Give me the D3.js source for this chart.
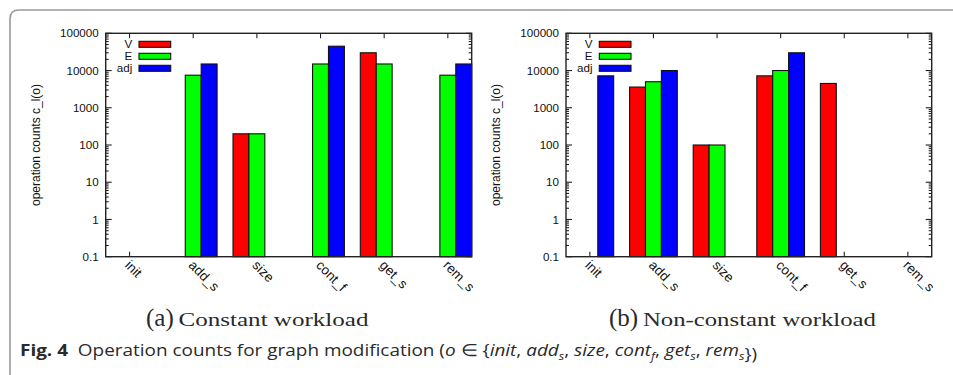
<!DOCTYPE html>
<html>
<head>
<meta charset="utf-8">
<script src="https://cdn.jsdelivr.net/npm/d3@7"></script>
<style>
  html, body { margin: 0; padding: 0; background: #fff; }
  svg { display: block; }
</style>
</head>
<body>
<svg id="fig" width="953" height="375"></svg>
<script>
// Operations measured on the graph structures
const categories = ["init", "add_s", "size", "cont_f", "get_s", "rem_s"];
const seriesNames = ["V", "E", "adj"];
const seriesColors = ["#ff0000", "#00ff00", "#0000ff"];
const yTickValues = [0.1, 1, 10, 100, 1000, 10000, 100000];
const yTickLabels = ["0.1", "1", "10", "100", "1000", "10000", "100000"];

// Constant workload counts per operation (null = no operations of that kind)
const constantV   = [null, null, 200, null, 30000, null];
const constantE   = [null, 7500, 200, 15000, 15000, 7500];
const constantAdj = [null, 15000, null, 45000, null, 15000];

// Non-constant workload counts per operation
const nonConstV   = [null, 3600, 100, 7200, 4500, null];
const nonConstE   = [null, 5000, 100, 10000, null, null];
const nonConstAdj = [7200, 10000, null, 30000, null, null];

const svg = d3.select("#fig");

// Outer figure frame with rounded top-left corner
svg.append("path")
  .attr("d", "M10,380 L10,19 Q10,10 19,10 L960,10")
  .attr("fill", "none")
  .attr("stroke", "#9a9a9a")
  .attr("stroke-width", 1.6);

function drawPanel(x0, x1, series) {
  const yTop = 33.3, yBot = 256.7;
  const g = svg.append("g");
  const x = d3.scaleLinear().domain([-0.375, categories.length - 0.625]).range([x0, x1]);
  const y = d3.scaleLog().domain([0.1, 100000]).range([yBot, yTop]);
  const bw = x(0.25) - x(0);

  // tick marks (drawn beneath the bars)
  const minor = [];
  for (let e = -1; e < 5; e++) for (let m = 2; m <= 9; m++) minor.push(m * Math.pow(10, e));
  const ticks = g.append("g").attr("stroke", "#222").attr("stroke-width", 1.1);
  minor.forEach(v => {
    ticks.append("line").attr("x1", x0).attr("x2", x0 + 3).attr("y1", y(v)).attr("y2", y(v));
    ticks.append("line").attr("x1", x1).attr("x2", x1 - 3).attr("y1", y(v)).attr("y2", y(v));
  });
  yTickValues.forEach(v => {
    ticks.append("line").attr("x1", x0).attr("x2", x0 + 6).attr("y1", y(v)).attr("y2", y(v));
    ticks.append("line").attr("x1", x1).attr("x2", x1 - 6).attr("y1", y(v)).attr("y2", y(v));
  });
  categories.forEach((c, i) => {
    ticks.append("line").attr("x1", x(i)).attr("x2", x(i)).attr("y1", yBot).attr("y2", yBot - 5);
    ticks.append("line").attr("x1", x(i)).attr("x2", x(i)).attr("y1", yTop).attr("y2", yTop + 5);
  });

  // bars
  series.forEach((vals, s) => {
    g.append("g").selectAll("rect")
      .data(vals.map((v, i) => ({ v, i })).filter(d => d.v != null))
      .join("rect")
      .attr("x", d => x(d.i + (s - 1) * 0.25) - bw / 2)
      .attr("y", d => y(d.v))
      .attr("width", bw)
      .attr("height", d => yBot - y(d.v))
      .attr("fill", seriesColors[s])
      .attr("stroke", "#111")
      .attr("stroke-width", 1.1);
  });

  // plot border
  g.append("rect")
    .attr("x", x0).attr("y", yTop)
    .attr("width", x1 - x0).attr("height", yBot - yTop)
    .attr("fill", "none").attr("stroke", "#222").attr("stroke-width", 1.4);

  // y tick labels
  g.append("g").selectAll("text")
    .data(yTickValues)
    .join("text")
    .attr("x", x0 - 7)
    .attr("y", d => y(d))
    .attr("dy", "0.35em")
    .attr("text-anchor", "end")
    .attr("font-family", "Liberation Sans, Arial, sans-serif")
    .attr("font-size", 11.6)
    .attr("fill", "#111")
    .text((d, i) => yTickLabels[i]);

  // x category labels, rotated
  g.append("g").selectAll("text")
    .data(categories)
    .join("text")
    .attr("transform", (d, i) => `translate(${x(i) - 2},${yBot + 6}) rotate(45)`)
    .attr("text-anchor", "start")
    .attr("dy", "0.35em")
    .attr("font-family", "Liberation Sans, Arial, sans-serif")
    .attr("font-size", 13.5)
    .attr("fill", "#111")
    .text(d => d);

  // y axis title
  g.append("text")
    .attr("transform", `translate(${x0 - 66},${(yTop + yBot) / 2}) rotate(-90)`)
    .attr("text-anchor", "middle")
    .attr("font-family", "Liberation Sans, Arial, sans-serif")
    .attr("font-size", 12)
    .attr("fill", "#111")
    .text("operation counts c_l(o)");

  // legend
  const lg = g.append("g");
  seriesNames.forEach((n, s) => {
    const ly = 41.3 + s * 12;
    lg.append("rect")
      .attr("x", x0 + 33.3).attr("y", ly)
      .attr("width", 31.7).attr("height", 6)
      .attr("fill", seriesColors[s]).attr("stroke", "#111").attr("stroke-width", 1.1);
    lg.append("text")
      .attr("x", x0 + 26.6).attr("y", ly + 3)
      .attr("dy", "0.35em")
      .attr("text-anchor", "end")
      .attr("font-family", "Liberation Sans, Arial, sans-serif")
      .attr("font-size", 11.6)
      .attr("fill", "#111")
      .text(n);
  });
}

drawPanel(105.7, 471.7, [constantV, constantE, constantAdj]);
drawPanel(566, 931.7, [nonConstV, nonConstE, nonConstAdj]);

// sub-figure captions
function subCaption(xStart, letter, label, labelWidth) {
  const t = svg.append("text")
    .attr("x", xStart).attr("y", 326)
    .attr("font-family", "Liberation Serif, Times New Roman, serif")
    .attr("fill", "#2a2a2a");
  t.append("tspan").attr("font-size", 25).text(`(${letter})`);
  t.append("tspan").attr("font-size", 19).text("\u00a0");
  t.append("tspan").attr("font-size", 19.5)
    .attr("textLength", labelWidth)
    .attr("lengthAdjust", "spacingAndGlyphs")
    .text(label);
}
subCaption(146, "a", "Constant workload", 190);
subCaption(609, "b", "Non-constant workload", 233);

// figure caption
const cap = svg.append("text")
  .attr("x", 0).attr("y", 0)
  .attr("font-family", "Open Sans, Noto Sans, sans-serif")
  .attr("font-size", 16.5)
  .attr("fill", "#2a2a2a");
cap.append("tspan").attr("font-weight", "bold").text("Fig. 4");
cap.append("tspan").text("\u00a0 Operation counts for graph modification (");
cap.append("tspan").attr("font-style", "italic").text("o");
cap.append("tspan").text(" \u2208 {");
const ops = [["init", ""], ["add", "s"], ["size", ""], ["cont", "f"], ["get", "s"], ["rem", "s"]];
ops.forEach(([base, sub], i) => {
  cap.append("tspan").attr("font-style", "italic").text(base);
  if (sub) {
    cap.append("tspan").attr("font-style", "italic").attr("font-size", 11).attr("dy", 3.5).text(sub);
    cap.append("tspan").attr("dy", -3.5).text(i < ops.length - 1 ? ", " : "");
  } else {
    cap.append("tspan").text(i < ops.length - 1 ? ", " : "");
  }
});
cap.append("tspan").text("})");
// fit the caption line to its column width
const capW = cap.node().getComputedTextLength();
cap.attr("transform", `translate(20,356) scale(${738 / capW},1)`);
</script>
</body>
</html>
